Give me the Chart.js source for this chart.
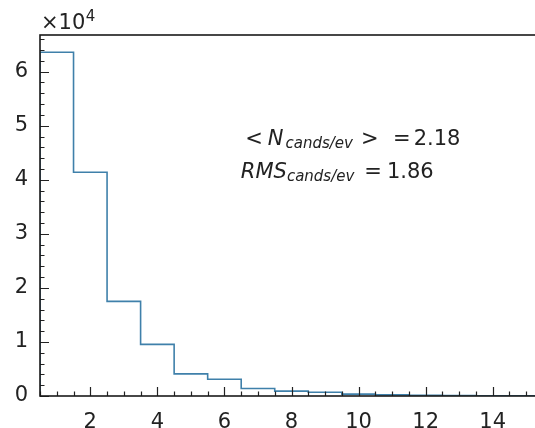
<!DOCTYPE html>
<html>
<head>
<meta charset="utf-8">
<script src="https://cdn.jsdelivr.net/npm/chart.js@4/dist/chart.umd.min.js"></script>
<style>
  html, body { margin: 0; padding: 0; background: #fff; overflow: hidden; }
  #wrap { position: relative; width: 560px; height: 428px; }
</style>
</head>
<body>
<div id="wrap"><canvas id="c" width="560" height="428"></canvas></div>
<script>
// Candidates per event: bin centres (integer multiplicities) and entries per bin
const binCenters = [1, 2, 3, 4, 5, 6, 7, 8, 9, 10, 11, 12, 13, 14, 15];
const counts = [63600, 41400, 17500, 9550, 4100, 3100, 1400, 900, 700, 350, 200, 150, 100, 50, 50];
const xTickValues = [2, 4, 6, 8, 10, 12, 14];
const yTickValues = [0, 1, 2, 3, 4, 5, 6];          // in units of 10^4
const meanLabel = '2.18';
const rmsLabel = '1.86';

const BIN_WIDTH = 1;
const Y_SCALE = 1e4;
const FONT = '"DejaVu Sans", sans-serif';
const INK = '#222222';
const LINE = '#3f80aa';

// Outline of a step histogram: corner points at every bin edge
const outline = [];
binCenters.forEach((c, i) => {
  const lo = c - BIN_WIDTH / 2, hi = c + BIN_WIDTH / 2;
  if (i === 0) outline.push({ x: lo, y: 0 });
  outline.push({ x: lo, y: counts[i] });
  outline.push({ x: hi, y: counts[i] });
  if (i === binCenters.length - 1) outline.push({ x: hi, y: 0 });
});

const xMin = binCenters[0] - BIN_WIDTH / 2;
const xMax = binCenters[binCenters.length - 1] + BIN_WIDTH / 2;
const yMax = Math.max(...counts) * 1.05;

// Text runs for the statistics box (font, text, gap before, baseline shift)
const statText = [
  { at: { x: 6.62, y: 4.64 }, runs: [
    { f: `21px ${FONT}`, t: '<' },
    { f: `italic 21px ${FONT}`, t: 'N', gap: 5 },
    { f: `italic 15px ${FONT}`, t: 'cands/ev', gap: 2, dy: 3 },
    { f: `21px ${FONT}`, t: '>', gap: 8 },
    { f: `21px ${FONT}`, t: '=', gap: 14.5 },
    { f: `21px ${FONT}`, t: meanLabel, gap: 3 }
  ]},
  { at: { x: 6.49, y: 4.03 }, runs: [
    { f: `italic 21px ${FONT}`, t: 'RMS' },
    { f: `italic 15px ${FONT}`, t: 'cands/ev', gap: 0, dy: 3 },
    { f: `21px ${FONT}`, t: '=', gap: 10 },
    { f: `21px ${FONT}`, t: rmsLabel, gap: 5 }
  ]}
];

const framePlugin = {
  id: 'frame',
  afterDraw(chart) {
    const { ctx, chartArea: ca, scales: { x: xs, y: ys } } = chart;
    ctx.save();

    // inward tick marks
    ctx.strokeStyle = INK;
    ctx.lineWidth = 1.2;
    ctx.beginPath();
    for (let v = xMin; v <= xMax + 1e-9; v += 0.5) {
      const px = Math.round(xs.getPixelForValue(v)) + 0.5;
      const len = xTickValues.includes(v) ? 9 : 4.5;
      ctx.moveTo(px, ca.bottom);
      ctx.lineTo(px, ca.bottom - len);
    }
    for (let v = 0; v <= yMax + 1e-9; v += 2000) {
      const py = Math.round(ys.getPixelForValue(v)) + 0.5;
      const len = yTickValues.includes(Math.round(v / Y_SCALE * 1e6) / 1e6) ? 9 : 4.5;
      ctx.moveTo(ca.left, py);
      ctx.lineTo(ca.left + len, py);
    }
    ctx.stroke();

    // axes frame
    ctx.lineWidth = 1.6;
    ctx.strokeStyle = '#1a1a1a';
    ctx.strokeRect(ca.left, ca.top, ca.right - ca.left, ca.bottom - ca.top);

    // offset label of the y axis
    ctx.fillStyle = INK;
    ctx.textBaseline = 'alphabetic';
    ctx.textAlign = 'left';
    ctx.font = `21px ${FONT}`;
    const ox = ca.left + 1, oy = ca.top - 6;
    ctx.fillText('\u00d710', ox, oy);
    const w = ctx.measureText('\u00d710').width;
    ctx.font = `15px ${FONT}`;
    ctx.fillText('4', ox + w + 0.5, oy - 8);

    // statistics
    statText.forEach(line => {
      let x = xs.getPixelForValue(line.at.x);
      const y = ys.getPixelForValue(line.at.y * Y_SCALE);
      line.runs.forEach(r => {
        x += r.gap || 0;
        ctx.font = r.f;
        ctx.fillText(r.t, x, y + (r.dy || 0));
        x += ctx.measureText(r.t).width;
      });
    });
    ctx.restore();
  }
};

new Chart(document.getElementById('c'), {
  type: 'line',
  data: {
    datasets: [{
      data: outline,
      borderColor: LINE,
      borderWidth: 1.6,
      pointRadius: 0,
      fill: false,
      tension: 0
    }]
  },
  options: {
    responsive: false,
    animation: false,
    devicePixelRatio: 1,
    layout: { padding: { top: 35, right: 17, left: 0, bottom: 0 } },
    plugins: { legend: { display: false }, tooltip: { enabled: false } },
    scales: {
      x: {
        type: 'linear',
        min: xMin,
        max: xMax,
        afterFit: s => { s.height = 32; },
        afterBuildTicks: s => { s.ticks = xTickValues.map(v => ({ value: v })); },
        grid: { display: false, drawTicks: false },
        border: { display: false },
        ticks: {
          autoSkip: false, maxRotation: 0, padding: 14,
          color: INK, font: { family: 'DejaVu Sans', size: 21 }
        }
      },
      y: {
        type: 'linear',
        min: 0,
        max: yMax,
        afterFit: s => { s.width = 40; },
        afterBuildTicks: s => { s.ticks = yTickValues.map(v => ({ value: v * Y_SCALE })); },
        grid: { display: false, drawTicks: false },
        border: { display: false },
        ticks: {
          padding: 12,
          color: INK, font: { family: 'DejaVu Sans', size: 21 },
          callback: v => String(Math.round(v / Y_SCALE))
        }
      }
    }
  },
  plugins: [framePlugin]
});
</script>
</body>
</html>
